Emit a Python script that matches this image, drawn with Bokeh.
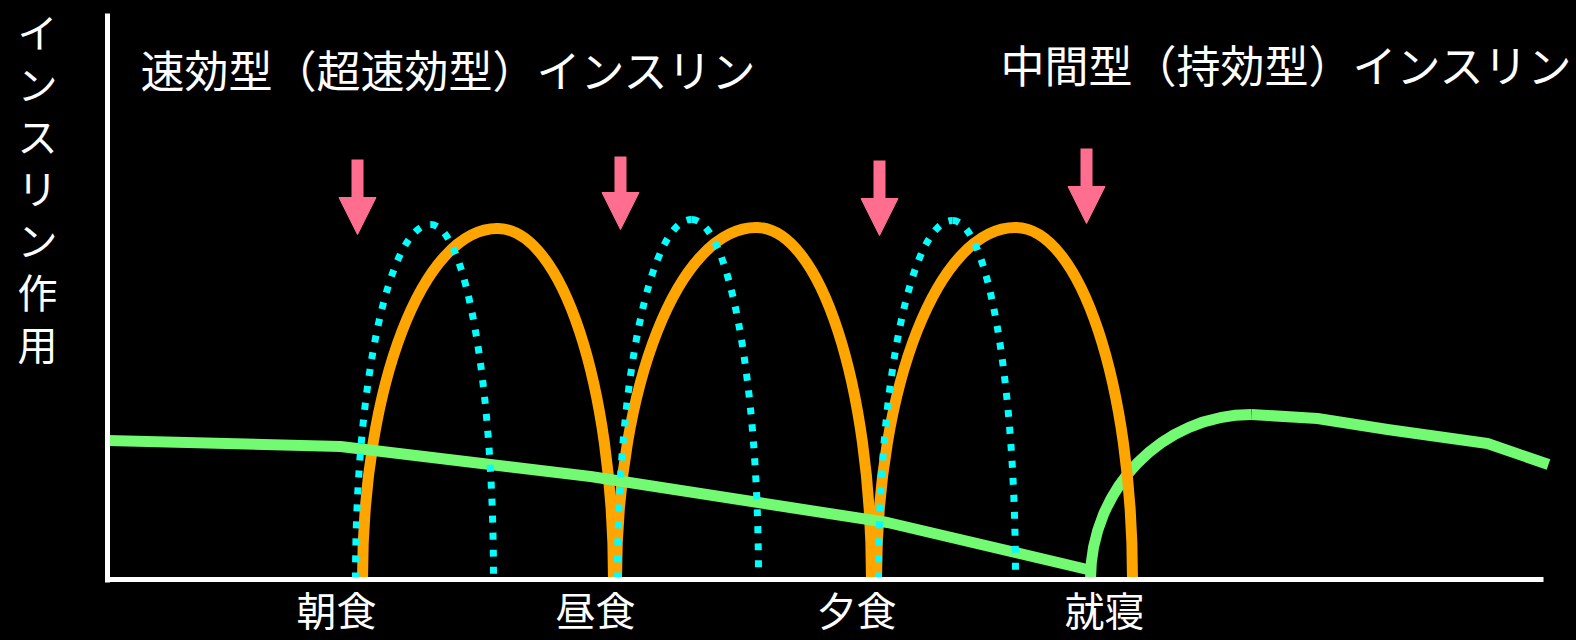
from bokeh.plotting import figure
from bokeh.models import Range1d, Label, Arrow, NormalHead, LinearAxis, FixedTicker, ColumnDataSource
from bokeh.embed import file_html
from bokeh.resources import INLINE
from bokeh.core.properties import value

# ---------------- data (time units across, insulin-effect units up) ----------------
meal_labels = ["朝食", "昼食", "夕食", "就寝"]
meal_label_x = [336, 595, 856, 1104]

injection_x = [357, 620, 879, 1086]
injection_top = [420, 423, 419, 431]
injection_tip = [345, 350, 344, 356]

# rapid-acting (orange): onset, peak time, peak effect, end
rapid_start = [362, 616, 876]
rapid_peak_x = [497, 756, 1015]
rapid_peak = [351, 352, 352]
rapid_end = [613, 871, 1132]

# ultra-rapid (cyan dotted)
ultra_start = [355, 617, 878]
ultra_peak_x = [430, 691, 952]
ultra_peak = [355, 360, 359]
ultra_end = [493, 758, 1015]

# intermediate / long-acting (green)
basal_x = [107, 340, 590, 887, 1087]
basal_y = [139, 133, 103, 57, 10]
bed_rise_start = 1090
bed_rise_end = 1251
bed_rise_top = 165
bed_x = [1251, 1317, 1387, 1487, 1548]
bed_y = [165, 161, 150, 136, 115]

ylabel_chars = list("インスリン作用")
title_rapid = "速効型（超速効型）インスリン"
title_basal = "中間型（持効型）インスリン"

# ---------------- styles ----------------
FONT = "Noto Sans CJK JP"
ORANGE = "#FFA500"
CYAN = "#00FFFF"
GREEN = "#72FA72"
PINK = "#FF6E8E"
K = 0.5523

W, H = 1576, 640
p = figure(width=W, height=H, x_range=Range1d(0, W), y_range=Range1d(579 - H, 579),
           x_axis_type=None, y_axis_type=None, toolbar_location=None,
           output_backend="svg", min_border=0, background_fill_color="black",
           border_fill_color="black", outline_line_color=None)
p.grid.visible = False


def arc_source(starts, peaks_x, peaks, ends):
    d = dict(x0=[], y0=[], x1=[], y1=[], cx0=[], cy0=[], cx1=[], cy1=[])
    for s, px, h, e in zip(starts, peaks_x, peaks, ends):
        # rising quarter
        d["x0"].append(s); d["y0"].append(0); d["x1"].append(px); d["y1"].append(h)
        d["cx0"].append(s); d["cy0"].append(K * h)
        d["cx1"].append(px - K * (px - s)); d["cy1"].append(h)
        # falling quarter
        d["x0"].append(px); d["y0"].append(h); d["x1"].append(e); d["y1"].append(0)
        d["cx0"].append(px + K * (e - px)); d["cy0"].append(h)
        d["cx1"].append(e); d["cy1"].append(K * h)
    return ColumnDataSource(d)


BEZ = dict(x0="x0", y0="y0", x1="x1", y1="y1", cx0="cx0", cy0="cy0", cx1="cx1", cy1="cy1")

# bedtime intermediate insulin rise
rise = ColumnDataSource(dict(x0=[bed_rise_start], y0=[0], x1=[bed_rise_end], y1=[bed_rise_top],
                             cx0=[bed_rise_start], cy0=[K * bed_rise_top],
                             cx1=[bed_rise_end - K * (bed_rise_end - bed_rise_start)], cy1=[bed_rise_top]))
p.bezier(source=rise, line_color=GREEN, line_width=11, **BEZ)
p.line(bed_x, bed_y, line_color=GREEN, line_width=11, line_join="round")

# rapid-acting
p.bezier(source=arc_source(rapid_start, rapid_peak_x, rapid_peak, rapid_end),
         line_color=ORANGE, line_width=11, **BEZ)
# smooth the join at each peak
p.scatter(x=rapid_peak_x, y=rapid_peak, marker="circle", size=11,
          fill_color=ORANGE, line_color=None)

# basal line during the day
p.line(basal_x, basal_y, line_color=GREEN, line_width=11, line_join="round")

# ultra-rapid dotted
p.bezier(source=arc_source(ultra_start, ultra_peak_x, ultra_peak, ultra_end),
         line_color=CYAN, line_width=7, line_dash="7 10", **BEZ)

# injection arrows
arr_src = ColumnDataSource(dict(x=injection_x, top=injection_top, tip=injection_tip))
p.add_layout(Arrow(end=NormalHead(size=37, fill_color=PINK, line_color=PINK, line_width=1),
                   x_start="x", y_start="top", x_end="x", y_end="tip", source=arr_src,
                   line_color=PINK, line_width=12))

# axes (L shape)
yax = LinearAxis(fixed_location=107, bounds=(-2.5, 566), ticker=FixedTicker(ticks=[]),
                 axis_line_color="white", axis_line_width=5,
                 major_tick_line_color=None, minor_tick_line_color=None,
                 major_label_text_color=None)
xax = LinearAxis(fixed_location=0, bounds=(104.5, 1543), ticker=FixedTicker(ticks=[]),
                 axis_line_color="white", axis_line_width=5,
                 major_tick_line_color=None, minor_tick_line_color=None,
                 major_label_text_color=None)
p.add_layout(yax, "left")
p.add_layout(xax, "below")

# meal labels
p.text(x=meal_label_x, y=[-29] * len(meal_labels), text=meal_labels,
       text_font=value(FONT), text_font_size="40px", text_color="white",
       text_align="center", text_baseline="middle")

# vertical y label
p.text(x=[37] * len(ylabel_chars), y=[579 - (30 + 52 * i) for i in range(len(ylabel_chars))],
       text=ylabel_chars, text_font=value(FONT), text_font_size="40px", text_color="white",
       text_align="center", text_baseline="middle")

# titles
p.add_layout(Label(x=140, y=511, text=title_rapid, text_font=FONT, text_font_size="44px",
                   text_color="white", text_baseline="middle", text_align="left"))
p.add_layout(Label(x=1000, y=516, text=title_basal, text_font=FONT, text_font_size="44px",
                   text_color="white", text_baseline="middle", text_align="left"))

template = """{% block postamble %}<style>html, body { margin: 0; padding: 0; background: #000; }</style>{% endblock %}"""
open("out.html", "w").write(file_html(p, INLINE, template=template))
